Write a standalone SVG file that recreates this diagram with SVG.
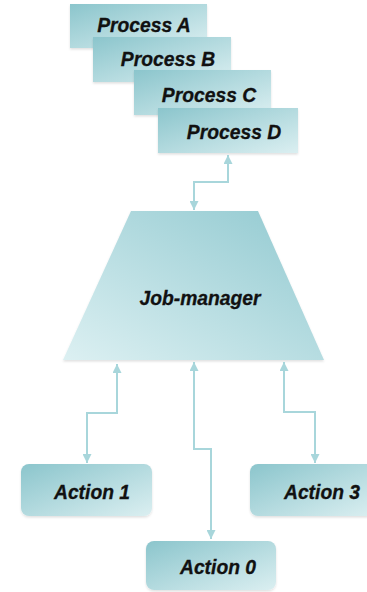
<svg xmlns="http://www.w3.org/2000/svg" width="367" height="592" viewBox="0 0 367 592">
<defs>
<linearGradient id="gBox" x1="0" y1="0" x2="1" y2="1">
<stop offset="0" stop-color="#8bc5cc"/>
<stop offset="1" stop-color="#dbeff1"/>
</linearGradient>
<linearGradient id="gTrap" x1="0" y1="1" x2="1" y2="0">
<stop offset="0" stop-color="#dcf0f2"/>
<stop offset="1" stop-color="#91c9d0"/>
</linearGradient>
<marker id="arr" viewBox="0 0 10 10" refX="10" refY="5" markerWidth="4.5" markerHeight="4.5" orient="auto-start-reverse" markerUnits="strokeWidth">
<path d="M0,0 L10,5 L0,10 Z" fill="#a8d6db"/>
</marker>
<filter id="sh" x="-5%" y="-5%" width="110%" height="120%">
<feDropShadow dx="0" dy="1.5" stdDeviation="0.8" flood-color="#000" flood-opacity="0.12"/>
</filter>
</defs>
<style>
.box{fill:url(#gBox);filter:url(#sh);}
.lbl{font-family:"Liberation Sans",Arial,sans-serif;font-weight:bold;font-style:italic;font-size:19.3px;fill:#111;stroke:#111;stroke-width:0.3;}
.con{fill:none;stroke:#a8d6db;stroke-width:2;marker-start:url(#arr);marker-end:url(#arr);}
</style>
<g id="processA"><rect class="box" x="70" y="4" width="137" height="44"/><text class="lbl" x="144" y="32" text-anchor="middle">Process A</text></g>
<g id="processB"><rect class="box" x="93" y="37" width="138" height="45"/><text class="lbl" x="168" y="66" text-anchor="middle">Process B</text></g>
<g id="processC"><rect class="box" x="134" y="70" width="137" height="45"/><text class="lbl" x="209" y="102" text-anchor="middle">Process C</text></g>
<g id="processD"><rect class="box" x="158" y="108" width="140" height="45"/><text class="lbl" x="234" y="139" text-anchor="middle">Process D</text></g>
<g id="jobmanager"><polygon points="131,211 258,211 324,360 63,360" fill="url(#gTrap)" filter="url(#sh)"/><text class="lbl" x="200" y="305" text-anchor="middle">Job-manager</text></g>
<g id="action1"><rect class="box" x="21" y="464" width="131" height="52" rx="8"/><text class="lbl" x="92" y="499" text-anchor="middle">Action 1</text></g>
<g id="action0"><rect class="box" x="146" y="541" width="130" height="49" rx="8"/><text class="lbl" x="218" y="574" text-anchor="middle">Action 0</text></g>
<g id="action3"><rect class="box" x="250" y="464" width="125" height="52" rx="8"/><text class="lbl" x="322" y="499" text-anchor="middle">Action 3</text></g>
<g id="connectors">
<path class="con" d="M228,155 V182 H194 V210"/>
<path class="con" d="M117,364 V413 H87 V463"/>
<path class="con" d="M194,362 V449 H211 V539"/>
<path class="con" d="M284,362 V412 H315 V463"/>
</g>
</svg>
